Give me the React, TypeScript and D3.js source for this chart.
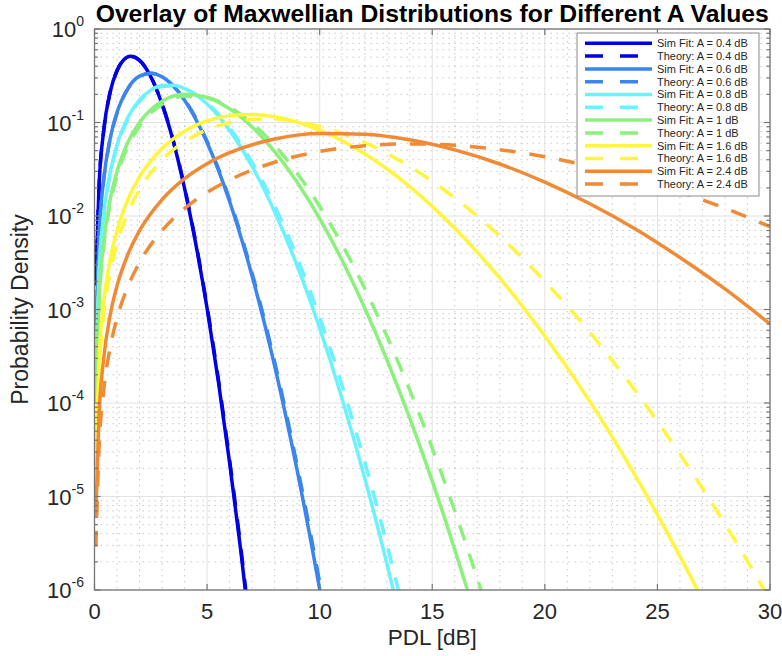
import { useEffect, useRef } from "react";
import * as d3 from "d3";

// PDL grid (dB) per A value, and probability densities
const pdlA04 = [0.06, 0.2, 0.4, 0.7, 1.0, 1.3, 1.6, 2.0, 2.5, 3.0, 3.5, 4.0, 4.5, 5.0, 5.5, 6.0, 6.5, 7.0];
const simA04 = [1.9e-3, 2.07e-2, 7.9e-2, 0.214, 0.36, 0.469, 0.51, 0.462, 0.309, 0.157, 0.0627, 0.0198, 5.0e-3, 1.03e-3, 1.71e-4, 2.3e-5, 2.6e-6, 2.3e-7];
const theoryA04 = [1.8e-3, 2.0e-2, 7.8e-2, 0.212, 0.358, 0.468, 0.51, 0.463, 0.311, 0.159, 0.064, 0.0203, 5.2e-3, 1.07e-3, 1.8e-4, 2.45e-5, 2.8e-6, 2.5e-7];

const pdlA06 = [0.06, 0.2, 0.4, 0.7, 1, 1.5, 2, 2.5, 3, 3.5, 4, 5, 6, 7, 8, 9, 10, 10.3];
const simA06 = [5.4e-4, 6.0e-3, 2.36e-2, 6.8e-2, 0.128, 0.235, 0.313, 0.337, 0.308, 0.245, 0.173, 0.061, 0.0143, 2.28e-3, 2.5e-4, 1.9e-5, 1.02e-6, 4e-7];
const theoryA06 = [5.2e-4, 5.8e-3, 2.3e-2, 6.7e-2, 0.126, 0.233, 0.311, 0.336, 0.309, 0.247, 0.176, 0.063, 0.015, 2.45e-3, 2.75e-4, 2.15e-5, 1.2e-6, 4.8e-7];

const pdlA08 = [0.06, 0.2, 0.4, 0.7, 1, 1.5, 2, 2.5, 3, 3.5, 4, 5, 6, 7, 8, 9, 10, 11, 12, 13, 13.5, 14];
const simA08 = [2.27e-4, 2.5e-3, 9.95e-3, 2.95e-2, 5.75e-2, 0.115, 0.175, 0.222, 0.248, 0.25, 0.231, 0.158, 0.0824, 0.0339, 0.0111, 2.94e-3, 6.3e-4, 1.1e-4, 1.58e-5, 1.85e-6, 5.9e-7, 1.8e-7];
const theoryA08 = [2.16e-4, 2.4e-3, 9.5e-3, 2.8e-2, 5.5e-2, 0.11, 0.168, 0.215, 0.242, 0.247, 0.231, 0.162, 0.0877, 0.0375, 0.0129, 3.6e-3, 8.2e-4, 1.53e-4, 2.35e-5, 3.0e-6, 9.9e-7, 3.1e-7];

const pdlA10 = [0.06, 0.2, 0.4, 0.7, 1, 1.5, 2, 3, 4, 5, 6, 7, 8, 9, 10, 11, 12, 13, 14, 15, 16, 17, 17.5];
const simA10 = [1.14e-4, 1.26e-3, 5.0e-3, 1.51e-2, 2.99e-2, 6.25e-2, 0.1, 0.169, 0.2, 0.185, 0.14, 0.0895, 0.0488, 0.023, 9.4e-3, 3.34e-3, 1.04e-3, 2.85e-4, 6.9e-5, 1.46e-5, 2.7e-6, 4.5e-7, 1.7e-7];
const theoryA10 = [1.02e-4, 1.13e-3, 4.5e-3, 1.35e-2, 2.69e-2, 5.65e-2, 0.0914, 0.157, 0.191, 0.184, 0.146, 0.098, 0.057, 0.0287, 0.0127, 4.94e-3, 1.69e-3, 5.1e-4, 1.38e-4, 3.3e-5, 7.0e-6, 1.33e-6, 5.6e-7];

const pdlA16 = [0.06, 0.2, 0.4, 0.7, 1, 1.5, 2, 3, 4, 5, 6, 7, 8, 9, 10, 12, 14, 16, 18, 20, 22, 24, 26, 28, 30];
const simA16 = [2.56e-5, 2.85e-4, 1.14e-3, 3.45e-3, 6.98e-3, 1.53e-2, 2.62e-2, 5.28e-2, 8.08e-2, 0.104, 0.118, 0.122, 0.115, 0.101, 0.0828, 0.0462, 0.0206, 7.4e-3, 2.17e-3, 5.2e-4, 1.04e-4, 1.7e-5, 2.3e-6, 2.6e-7, 2.5e-8];
const theoryA16 = [1.85e-5, 2.06e-4, 8.2e-4, 2.5e-3, 5.06e-3, 1.11e-2, 1.92e-2, 3.97e-2, 6.25e-2, 8.35e-2, 0.0993, 0.108, 0.109, 0.102, 0.091, 0.0611, 0.0338, 0.0156, 6.1e-3, 2.0e-3, 5.7e-4, 1.37e-4, 2.84e-5, 5.1e-6, 7.8e-7];

const pdlA24 = [0.06, 0.2, 0.4, 0.7, 1, 1.5, 2, 3, 4, 5, 6, 8, 10, 12, 14, 16, 18, 20, 22, 24, 26, 28, 30];
const simA24 = [6.5e-6, 7.2e-5, 2.88e-4, 8.8e-4, 1.79e-3, 3.98e-3, 6.97e-3, 1.5e-2, 2.51e-2, 3.63e-2, 4.75e-2, 6.65e-2, 7.62e-2, 7.5e-2, 6.53e-2, 5.09e-2, 3.6e-2, 2.3e-2, 1.35e-2, 7.3e-3, 3.6e-3, 1.66e-3, 7.0e-4];
const theoryA24 = [2.9e-6, 3.2e-5, 1.3e-4, 3.96e-4, 8.07e-4, 1.8e-3, 3.18e-3, 6.97e-3, 1.2e-2, 1.79e-2, 2.43e-2, 3.76e-2, 4.9e-2, 5.64e-2, 5.9e-2, 5.7e-2, 5.12e-2, 4.3e-2, 3.41e-2, 2.55e-2, 1.81e-2, 1.21e-2, 7.7e-3];

const aLabels = ["0.4", "0.6", "0.8", "1", "1.6", "2.4"];
const colors = ["#0000e6", "#3a85ee", "#6cf2ff", "#8cf07c", "#fff63c", "#f08a34"];
const pdls = [pdlA04, pdlA06, pdlA08, pdlA10, pdlA16, pdlA24];
const sims = [simA04, simA06, simA08, simA10, simA16, simA24];
const theories = [theoryA04, theoryA06, theoryA08, theoryA10, theoryA16, theoryA24];

const xTicks = [0, 5, 10, 15, 20, 25, 30];
const yExponents = [0, -1, -2, -3, -4, -5, -6];

const FONT = "'Liberation Sans', Arial, Helvetica, sans-serif";

function App() {
    const ref = useRef<SVGSVGElement | null>(null);

    useEffect(() => {
        drawChart();
    }, []);

    function drawChart() {
        const width = 782, height = 656;
        const left = 94.5, right = 770, top = 29, bottom = 590;

        const svg = d3.select(ref.current);
        svg.selectAll("*").remove();

        const x = d3.scaleLinear().domain([0, 30]).range([left, right]);
        const y = d3.scaleLog().domain([1e-6, 1]).range([bottom, top]);

        svg.append("rect").attr("width", width).attr("height", height).attr("fill", "#fff");

        // minor grid
        const grid = svg.append("g");
        for (let v = 1; v < 30; v++) {
            if (v % 5 === 0) continue;
            grid.append("line")
                .attr("x1", x(v)).attr("x2", x(v)).attr("y1", top).attr("y2", bottom)
                .attr("stroke", "#c8c8c8").attr("stroke-width", 1).attr("stroke-dasharray", "1.5 4.5");
        }
        for (let e = -6; e < 0; e++) {
            for (let m = 2; m <= 9; m++) {
                const yy = y(m * Math.pow(10, e));
                grid.append("line")
                    .attr("x1", left).attr("x2", right).attr("y1", yy).attr("y2", yy)
                    .attr("stroke", "#c8c8c8").attr("stroke-width", 1).attr("stroke-dasharray", "1.5 4.5");
            }
        }
        // major grid
        xTicks.forEach((t) => {
            grid.append("line")
                .attr("x1", x(t)).attr("x2", x(t)).attr("y1", top).attr("y2", bottom)
                .attr("stroke", "#e2e2e2").attr("stroke-width", 1);
        });
        yExponents.forEach((e) => {
            grid.append("line")
                .attr("x1", left).attr("x2", right).attr("y1", y(Math.pow(10, e))).attr("y2", y(Math.pow(10, e)))
                .attr("stroke", "#e2e2e2").attr("stroke-width", 1);
        });

        // curves
        svg.append("clipPath").attr("id", "plot-clip")
            .append("rect").attr("x", left).attr("y", top).attr("width", right - left).attr("height", bottom - top);

        const line = d3.line<[number, number]>()
            .x((d) => x(d[0]))
            .y((d) => y(d[1]))
            .curve(d3.curveMonotoneX);

        const curves = svg.append("g").attr("clip-path", "url(#plot-clip)");
        aLabels.forEach((a, i) => {
            const simPts = pdls[i].map((p, j) => [p, sims[i][j]] as [number, number]);
            const thPts = pdls[i].map((p, j) => [p, theories[i][j]] as [number, number]);
            curves.append("path")
                .attr("d", line(simPts))
                .attr("fill", "none").attr("stroke", colors[i]).attr("stroke-width", 3.5)
                .attr("stroke-linejoin", "round");
            curves.append("path")
                .attr("d", line(thPts))
                .attr("fill", "none").attr("stroke", colors[i]).attr("stroke-width", 3.5)
                .attr("stroke-dasharray", "16 14");
        });

        // axes box and ticks
        const axisColor = "#767676";
        svg.append("rect")
            .attr("x", left).attr("y", top).attr("width", right - left).attr("height", bottom - top)
            .attr("fill", "none").attr("stroke", axisColor).attr("stroke-width", 1.3);

        const ticks = svg.append("g").attr("stroke", axisColor).attr("stroke-width", 1.2);
        xTicks.forEach((t) => {
            ticks.append("line").attr("x1", x(t)).attr("x2", x(t)).attr("y1", bottom).attr("y2", bottom - 6);
            ticks.append("line").attr("x1", x(t)).attr("x2", x(t)).attr("y1", top).attr("y2", top + 6);
        });
        yExponents.forEach((e) => {
            const yy = y(Math.pow(10, e));
            ticks.append("line").attr("x1", left).attr("x2", left + 6).attr("y1", yy).attr("y2", yy);
            ticks.append("line").attr("x1", right).attr("x2", right - 6).attr("y1", yy).attr("y2", yy);
        });
        for (let e = -6; e < 0; e++) {
            for (let m = 2; m <= 9; m++) {
                const yy = y(m * Math.pow(10, e));
                ticks.append("line").attr("x1", left).attr("x2", left + 3.5).attr("y1", yy).attr("y2", yy);
                ticks.append("line").attr("x1", right).attr("x2", right - 3.5).attr("y1", yy).attr("y2", yy);
            }
        }

        // tick labels
        const labels = svg.append("g").attr("font-family", FONT).attr("fill", "#262626");
        xTicks.forEach((t) => {
            labels.append("text")
                .attr("x", x(t)).attr("y", bottom + 29)
                .attr("text-anchor", "middle").attr("font-size", 22)
                .text(t);
        });
        yExponents.forEach((e) => {
            const txt = labels.append("text")
                .attr("x", 84).attr("y", y(Math.pow(10, e)) + 8)
                .attr("text-anchor", "end").attr("font-size", 22);
            txt.append("tspan").text("10");
            txt.append("tspan").attr("dy", -11).attr("font-size", 14).text(String(e));
        });

        // axis labels and title
        labels.append("text")
            .attr("x", (left + right) / 2).attr("y", 645)
            .attr("text-anchor", "middle").attr("font-size", 22.5)
            .text("PDL [dB]");
        labels.append("text")
            .attr("transform", `translate(28,${(top + bottom) / 2}) rotate(-90)`)
            .attr("text-anchor", "middle").attr("font-size", 23)
            .text("Probability Density");
        svg.append("text")
            .attr("x", (left + right) / 2).attr("y", 22)
            .attr("text-anchor", "middle").attr("font-family", FONT)
            .attr("font-size", 24.7).attr("font-weight", "bold").attr("fill", "#000")
            .text("Overlay of Maxwellian Distributions for Different A Values");

        // legend
        const lg = svg.append("g");
        lg.append("rect")
            .attr("x", 577).attr("y", 33).attr("width", 182).attr("height", 163)
            .attr("fill", "#fff").attr("stroke", "#8a8a8a").attr("stroke-width", 1);
        aLabels.forEach((a, i) => {
            ["Sim Fit", "Theory"].forEach((kind, k) => {
                const row = i * 2 + k;
                const yy = 43.3 + row * 12.8;
                lg.append("line")
                    .attr("x1", 585).attr("x2", 652).attr("y1", yy).attr("y2", yy)
                    .attr("stroke", colors[i]).attr("stroke-width", 3.5)
                    .attr("stroke-dasharray", k === 1 ? "18 17" : null);
                lg.append("text")
                    .attr("x", 657).attr("y", yy + 3.9)
                    .attr("font-family", FONT).attr("font-size", 11).attr("fill", "#262626")
                    .text(`${kind}: A = ${a} dB`);
            });
        });
    }

    return (
        <svg
            ref={ref}
            width={782}
            height={656}
            style={{ position: "absolute", left: 0, top: 0, display: "block" }}
        />
    );
}

export default App;
